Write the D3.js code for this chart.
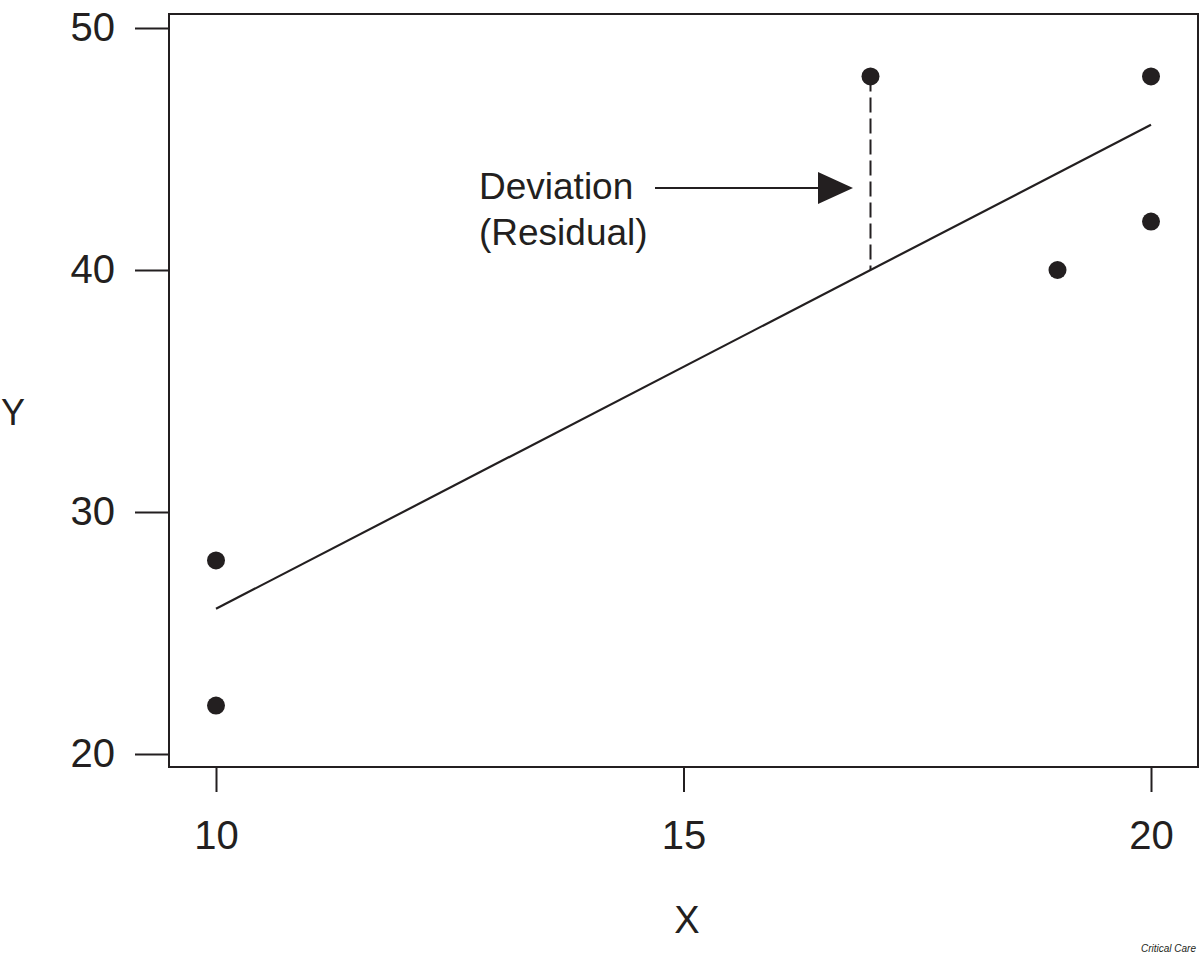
<!DOCTYPE html>
<html>
<head>
<meta charset="utf-8">
<script src="https://cdn.jsdelivr.net/npm/d3@7"></script>
<style>
  body { margin: 0; background: #fff; }
  text { font-family: "Liberation Sans", Arial, sans-serif; fill: #231f20; }
</style>
</head>
<body>
<div id="chart"></div>
<script>
// data
var xVals = [10, 10, 17, 19, 20, 20];
var yVals = [28, 22, 48, 40, 48, 42];
var fitX = [10, 20];
var fitY = [26, 46];
var residualX = 17;
var residualY = [48, 40];
var xTicks = [10, 15, 20];
var yTicks = [20, 30, 40, 50];

var svgWidth = 1200;
var svgHeight = 955;
var box = { left: 169, top: 14, right: 1198, bottom: 767 };
var ink = "#231f20";

var svg = d3.select("#chart")
  .append("svg")
  .attr("width", svgWidth)
  .attr("height", svgHeight);

var xScale = d3.scaleLinear()
  .domain([10, 20])
  .range([216, 1151]);

var yScale = d3.scaleLinear()
  .domain([20, 50])
  .range([754, 28]);

// frame
svg.append("rect")
  .attr("x", box.left)
  .attr("y", box.top)
  .attr("width", box.right - box.left)
  .attr("height", box.bottom - box.top)
  .attr("fill", "none")
  .attr("stroke", ink)
  .attr("stroke-width", 2);

// axes
var bottomAxis = d3.axisBottom(xScale).tickValues(xTicks).tickSize(25).tickPadding(29);
var leftAxis = d3.axisLeft(yScale).tickValues(yTicks).tickSize(34).tickPadding(20);

var gx = svg.append("g")
  .attr("transform", `translate(0, ${box.bottom})`)
  .call(bottomAxis);
var gy = svg.append("g")
  .attr("transform", `translate(${box.left}, 0)`)
  .call(leftAxis);

[gx, gy].forEach(function(g) {
  g.select(".domain").remove();
  g.selectAll(".tick line").attr("stroke", ink).attr("stroke-width", 2);
  g.selectAll(".tick text")
    .attr("font-size", "40px")
    .attr("fill", ink)
    .style("font-family", "Liberation Sans, Arial, sans-serif");
});
gx.selectAll(".tick text").attr("dy", "0.71em");

// axis titles
svg.append("text")
  .attr("x", 687)
  .attr("y", 933)
  .attr("text-anchor", "middle")
  .attr("font-size", "38px")
  .text("X");

svg.append("text")
  .attr("x", 1)
  .attr("y", 425)
  .attr("text-anchor", "start")
  .attr("font-size", "36px")
  .text("Y");

// fitted line
svg.append("line")
  .attr("x1", xScale(fitX[0]))
  .attr("y1", yScale(fitY[0]))
  .attr("x2", xScale(fitX[1]))
  .attr("y2", yScale(fitY[1]))
  .attr("stroke", ink)
  .attr("stroke-width", 2.2);

// residual
svg.append("line")
  .attr("x1", xScale(residualX))
  .attr("y1", yScale(residualY[0]))
  .attr("x2", xScale(residualX))
  .attr("y2", yScale(residualY[1]))
  .attr("stroke", ink)
  .attr("stroke-width", 2)
  .attr("stroke-dasharray", "15,6");

// points
svg.selectAll("circle")
  .data(xVals)
  .enter()
  .append("circle")
  .attr("cx", d => xScale(d))
  .attr("cy", (d, i) => yScale(yVals[i]))
  .attr("r", 9)
  .attr("fill", ink);

// annotation
svg.append("text")
  .attr("x", 479)
  .attr("y", 199)
  .attr("font-size", "37px")
  .text("Deviation");
svg.append("text")
  .attr("x", 479)
  .attr("y", 245)
  .attr("font-size", "37px")
  .text("(Residual)");

svg.append("line")
  .attr("x1", 655)
  .attr("y1", 188)
  .attr("x2", 822)
  .attr("y2", 188)
  .attr("stroke", ink)
  .attr("stroke-width", 2);
svg.append("path")
  .attr("d", "M818,172 L853,188 L818,204 Z")
  .attr("fill", ink);

svg.append("text")
  .attr("x", 1196)
  .attr("y", 952)
  .attr("text-anchor", "end")
  .attr("font-size", "10px")
  .attr("font-style", "italic")
  .text("Critical Care");
</script>
</body>
</html>
